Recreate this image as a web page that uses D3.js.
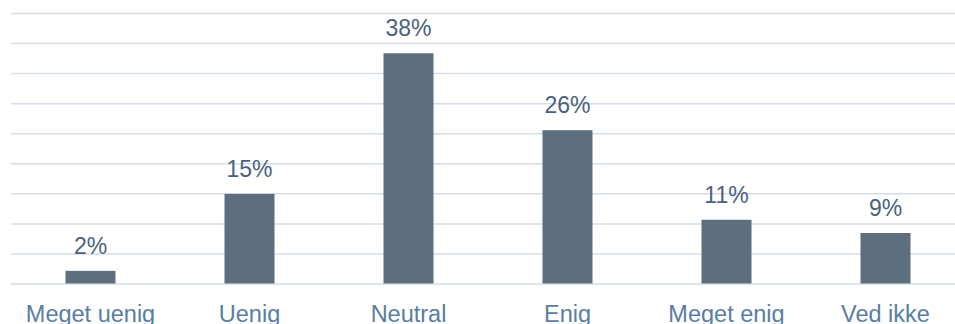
<!DOCTYPE html>
<html>
<head>
<meta charset="utf-8">
<script src="https://cdn.jsdelivr.net/npm/d3@7"></script>
<style>
  html, body { margin: 0; padding: 0; background: #fff; overflow: hidden; }
  svg { display: block; }
</style>
</head>
<body>
<svg id="chart" width="955" height="324"></svg>
<script>
const categories = ["Meget uenig", "Uenig", "Neutral", "Enig", "Meget enig", "Ved ikke"];
const values = [2.1, 14.9, 38.3, 25.5, 10.6, 8.4];
const valueLabels = ["2%", "15%", "38%", "26%", "11%", "9%"];
const yTicks = [0, 5, 10, 15, 20, 25, 30, 35, 40, 45];

const svg = d3.select("#chart");
const x = d3.scaleBand()
  .domain(categories)
  .range([11, 965])
  .paddingInner(0.6855)
  .paddingOuter(0.6855 / 2);
const y = d3.scaleLinear().domain([0, 45]).range([283.5, 13]);

// gridlines via axis
const grid = svg.append("g")
  .attr("transform", "translate(11,0)")
  .call(d3.axisLeft(y).tickValues(yTicks).tickSize(-960).tickFormat(""));
grid.select(".domain").remove();
grid.selectAll("line").attr("stroke", "#d5dee8").attr("stroke-width", 1.5);

// bars
svg.append("g").selectAll("rect")
  .data(values)
  .join("rect")
  .attr("x", (d, i) => x(categories[i]))
  .attr("width", x.bandwidth())
  .attr("y", d => y(d))
  .attr("height", d => y(0) - y(d))
  .attr("fill", "#5d6f7f");

// value labels
svg.append("g").selectAll("text")
  .data(values)
  .join("text")
  .attr("x", (d, i) => x(categories[i]) + x.bandwidth() / 2)
  .attr("y", d => y(d) - 17)
  .attr("text-anchor", "middle")
  .attr("font-family", "'Liberation Sans', Arial, sans-serif")
  .attr("font-size", 23)
  .attr("fill", "#4a6280")
  .text((d, i) => valueLabels[i]);

// x axis labels
const xAxis = svg.append("g")
  .attr("transform", "translate(0,283.5)")
  .call(d3.axisBottom(x).tickSize(0).tickPadding(0));
xAxis.select(".domain").remove();
xAxis.selectAll("text")
  .attr("dy", null)
  .attr("y", 38)
  .attr("font-family", "'Liberation Sans', Arial, sans-serif")
  .attr("font-size", 23.5)
  .attr("fill", "#5a7ea3");
</script>
</body>
</html>
